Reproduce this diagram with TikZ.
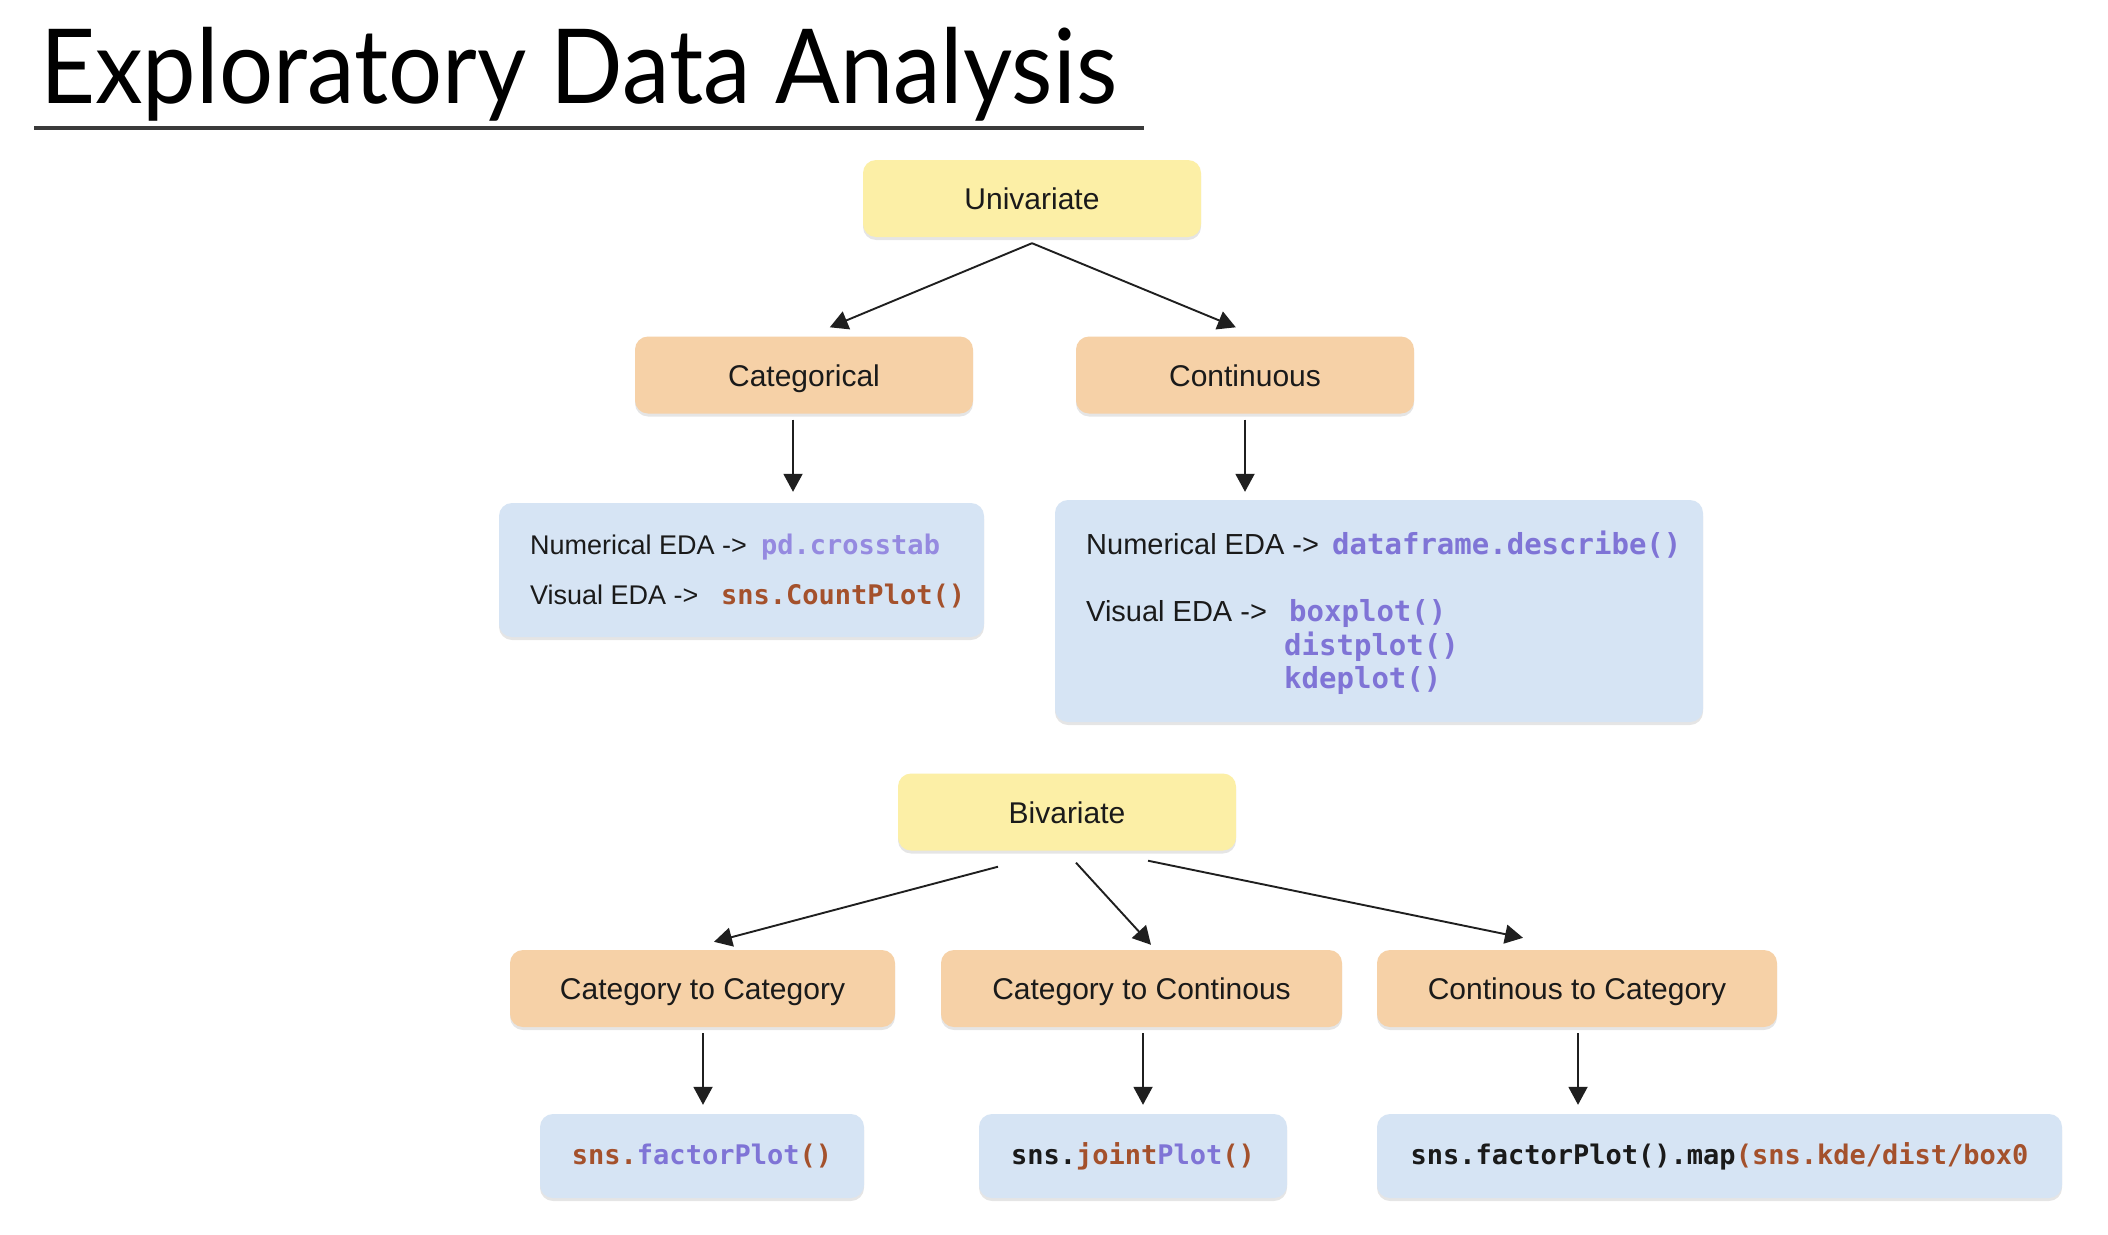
\documentclass[tikz,border=0pt]{standalone}
\usepackage{graphicx}
\usepackage{fontspec}
\setmainfont{Liberation Sans}
\newfontfamily\titlefont{Lato}
\newfontfamily\codefont{DejaVu Sans Mono}
\usetikzlibrary{arrows.meta,shadows,calc}
\definecolor{uniY}{HTML}{FCEFA6}
\definecolor{catO}{HTML}{F6D1A7}
\definecolor{boxB}{HTML}{D6E4F4}
\definecolor{codeP}{HTML}{7F74D6}
\definecolor{codeL}{HTML}{958AE0}
\definecolor{codeR}{HTML}{A4512C}
\definecolor{txt}{HTML}{1A1A1A}
\definecolor{ulc}{HTML}{3A3A3A}
\newcommand{\cd}[1]{{\codefont\bfseries #1}}
\tikzset{
  basebox/.style={rounded corners=13pt, draw=none, inner sep=0pt,
    drop shadow={shadow xshift=0pt, shadow yshift=-3pt, opacity=0.10, fill=black}},
  lbl/.style={font=\fontsize{30}{36}\selectfont, text=txt, text height=26pt, text depth=4pt},
  ybox/.style={basebox, lbl, fill=uniY, minimum width=338pt, minimum height=77pt},
  obox/.style={basebox, lbl, fill=catO, minimum height=77pt},
  bbox/.style={basebox, fill=boxB},
  ltxt/.style={anchor=base west, inner sep=0pt, text=txt},
  conn/.style={-{Triangle[length=18pt,width=19pt]}, line width=1.9pt, draw=black!88},
}
\begin{document}
\begin{tikzpicture}[x=1pt,y=-1pt]
\useasboundingbox[fill=white] (0,0) rectangle (2108,1234);

% title
\node[anchor=north west, inner sep=0pt] (title) at (40,27)
  {\resizebox*{1076pt}{94pt}{\titlefont Exploratory Data Analysis}};
\coordinate (ula) at (34,128);
\coordinate (ulb) at (1144,128);
\draw[line width=4pt, ulc] (ula) -- (ulb);

% univariate
\node[ybox] (uni) at (1032,198.5) {Univariate};
\node[obox, minimum width=338pt] (cat) at (804,375) {Categorical};
\node[obox, minimum width=338pt] (cont) at (1245,375) {Continuous};
\node[bbox, minimum width=485pt, minimum height=134pt] (b1) at (741.5,570) {};
\node[bbox, minimum width=648pt, minimum height=222pt] (b2) at (1379,611) {};

% box 1 text
\begin{scope}[font=\fontsize{27}{32}\selectfont]
\node[ltxt] (b1n) at (530,554) {Numerical EDA ->};
\node[ltxt, text=codeL] (b1nc) at (761,554) {\cd{pd.crosstab}};
\node[ltxt] (b1v) at (530,604) {Visual EDA ->};
\node[ltxt, text=codeR] (b1vc) at (721,604) {\cd{sns.CountPlot()}};
\end{scope}

% box 2 text
\begin{scope}[font=\fontsize{29}{34}\selectfont]
\node[ltxt] (b2n) at (1086,554) {Numerical EDA ->};
\node[ltxt, text=codeP] (b2nc) at (1332,554) {\cd{dataframe.describe()}};
\node[ltxt] (b2v) at (1086,621) {Visual EDA ->};
\node[ltxt, text=codeP] (b2v1) at (1289,621) {\cd{boxplot()}};
\node[ltxt, text=codeP] (b2v2) at (1284,655) {\cd{distplot()}};
\node[ltxt, text=codeP] (b2v3) at (1284,688) {\cd{kdeplot()}};
\end{scope}

% bivariate
\node[ybox] (biv) at (1067,812) {Bivariate};
\node[obox, minimum width=385pt] (cc) at (702.5,988.5) {Category to Category};
\node[obox, minimum width=401pt] (cn) at (1141.5,988.5) {Category to Continous};
\node[obox, minimum width=400pt] (nc) at (1577,988.5) {Continous to Category};

\begin{scope}[font=\fontsize{27}{32}\selectfont]
\node[bbox, minimum width=324pt, minimum height=84pt] (f1) at (702,1156)
  {\cd{\textcolor{codeR}{sns.}\textcolor{codeP}{factorPlot}\textcolor{codeR}{()}}};
\node[bbox, minimum width=308pt, minimum height=84pt] (f2) at (1133,1156)
  {\cd{\textcolor{txt}{sns.}\textcolor{codeR}{joint}\textcolor{codeP}{Plot}\textcolor{codeR}{()}}};
\node[bbox, minimum width=685pt, minimum height=84pt] (f3) at (1719.5,1156)
  {\cd{\textcolor{txt}{sns.factorPlot().map}\textcolor{codeR}{(sns.kde/dist/box0}}};
\end{scope}

% connectors
\draw[conn] ($(uni.south)+(0,6)$) -- ($(cat.north west)+(195,-9)$);
\draw[conn] ($(uni.south)+(0,6)$) -- ($(cont.north west)+(160,-9)$);
\draw[conn] ($(cat.south)+(-11,6)$) -- ($(b1.north)+(51.5,-11)$);
\draw[conn] ($(cont.south)+(0,6)$) -- ($(b2.north)+(-134,-8)$);

\draw[conn] ($(biv.south)+(-69,16)$) -- ($(cc.north)+(11.5,-8)$);
\draw[conn] ($(biv.south)+(9,12)$) -- ($(cn.north)+(9.5,-5)$);
\draw[conn] ($(biv.south)+(81,10)$) -- ($(nc.north)+(-54,-12)$);

\draw[conn] ($(cc.south)+(0.5,6)$) -- ($(f1.north)+(1,-9)$);
\draw[conn] ($(cn.south)+(1.5,6)$) -- ($(f2.north)+(10,-9)$);
\draw[conn] ($(nc.south)+(1,6)$) -- ($(f3.north)+(-141.5,-9)$);
\end{tikzpicture}
\end{document}
